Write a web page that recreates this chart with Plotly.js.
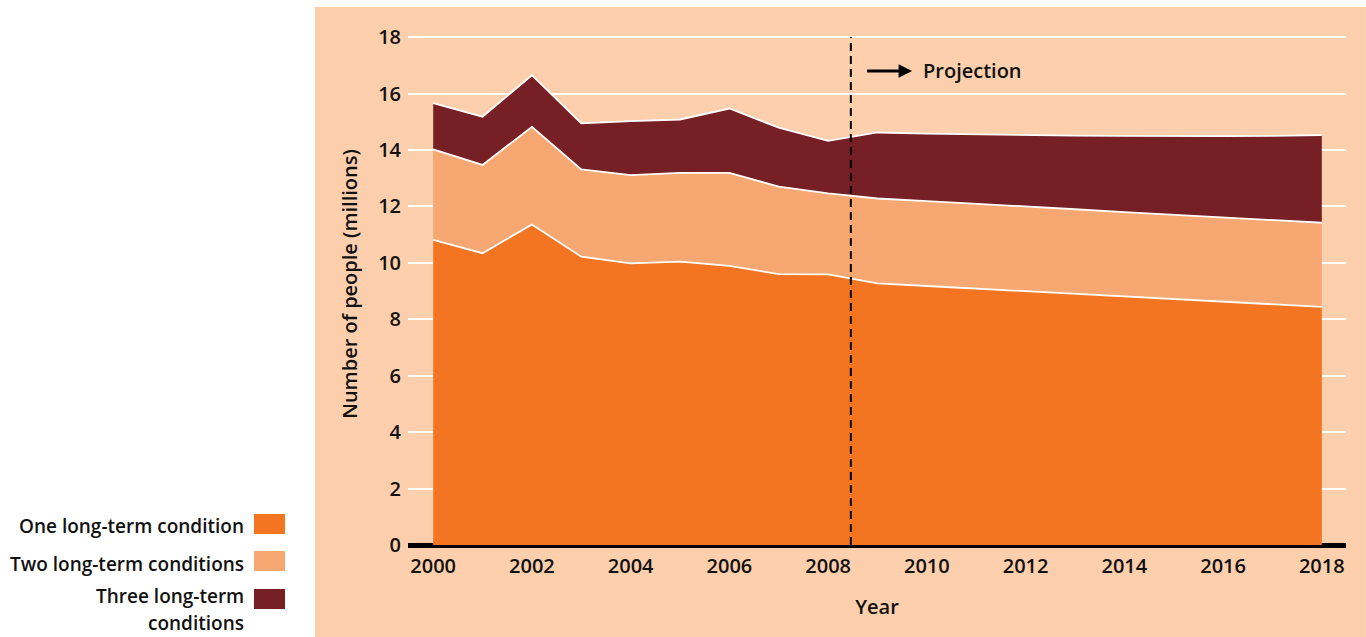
<!DOCTYPE html>
<html>
<head>
<meta charset="utf-8">
<script src="https://cdn.plot.ly/plotly-3.0.1.min.js"></script>
<style>
  html, body { margin: 0; padding: 0; background: #ffffff; }
  #chart { width: 1366px; height: 637px; }
</style>
</head>
<body>
<div id="chart"></div>
<script>
// ---- Data (millions of people) ----
const years = [2000, 2001, 2002, 2003, 2004, 2005, 2006, 2007, 2008, 2009,
               2010, 2011, 2012, 2013, 2014, 2015, 2016, 2017, 2018];
const oneCondition   = [10.81, 10.34, 11.36, 10.22, 9.98, 10.04, 9.89, 9.60, 9.59, 9.27,
                        9.18, 9.09, 8.99, 8.90, 8.81, 8.72, 8.63, 8.53, 8.44];
const twoConditions  = [3.21, 3.13, 3.46, 3.09, 3.13, 3.15, 3.30, 3.10, 2.87, 3.01,
                        3.01, 3.01, 3.01, 3.00, 2.99, 2.98, 2.98, 2.99, 2.98];
const threeConditions = [1.64, 1.71, 1.83, 1.63, 1.91, 1.89, 2.28, 2.09, 1.86, 2.34,
                        2.39, 2.45, 2.53, 2.61, 2.70, 2.79, 2.88, 2.98, 3.11];
const seriesNames = ["One long-term condition", "Two long-term conditions", "Three long-term<br>conditions"];
const xTicks = [2000, 2002, 2004, 2006, 2008, 2010, 2012, 2014, 2016, 2018];
const yTicks = [0, 2, 4, 6, 8, 10, 12, 14, 16, 18];
const projectionStart = 2008.46;

const colors = ["#F47521", "#F7A872", "#762026"];
const bg = "#FDCFAD";
const FONT = "'Open Sans', 'Noto Sans', sans-serif";
const W = 600;

const seriesData = [oneCondition, twoConditions, threeConditions];
const traces = seriesData.map((vals, i) => ({
  type: "scatter",
  mode: "lines",
  x: years,
  y: vals,
  name: seriesNames[i].replace("<br>", " "),
  stackgroup: "one",
  fillcolor: colors[i],
  line: { color: "#ffffff", width: 1.8 },
  hoverinfo: "x+y+name"
}));

// legend drawn at left with text to the left of swatch (one annotation per text line)
const legendLineY = [[0.0364], [-0.0364], [-0.0977, -0.1494]];
const swatchY = [[0.0211, 0.0594], [-0.0498, -0.0115], [-0.1226, -0.0843]];
const legendAnns = [];
seriesNames.forEach((n, i) => {
  n.split("<br>").forEach((part, j) => {
    legendAnns.push({
      xref: "paper", yref: "paper",
      x: -0.1727, y: legendLineY[i][j],
      xanchor: "right", yanchor: "middle",
      align: "right",
      text: part, showarrow: false,
      font: { family: FONT, size: 19, color: "#111111", weight: W }
    });
  });
});
const legendShapes = colors.map((c, i) => ({
  type: "rect", xref: "paper", yref: "paper",
  x0: -0.1642, x1: -0.1311, y0: swatchY[i][0], y1: swatchY[i][1],
  fillcolor: c, line: { width: 0 }
}));

const layout = {
  width: 1366, height: 637,
  margin: { l: 408, r: 20, t: 23, b: 92 },
  paper_bgcolor: "#ffffff",
  plot_bgcolor: "rgba(0,0,0,0)",
  showlegend: false,
  font: { family: FONT, size: 18, color: "#111111" },
  xaxis: {
    range: [1999.49, 2018.49],
    tickvals: xTicks,
    ticktext: xTicks.map(String),
    showgrid: false, zeroline: false, showline: false,
    ticks: "",
    ticklabelstandoff: 7,
    tickfont: { family: FONT, size: 20, color: "#111111", weight: W },
    title: { text: "Year", standoff: 21, font: { family: FONT, size: 20, color: "#111111", weight: W } }
  },
  yaxis: {
    range: [0, 18.5],
    tickvals: yTicks,
    ticktext: yTicks.map(String),
    showgrid: true, gridcolor: "#ffffff", gridwidth: 2,
    zeroline: true, zerolinecolor: "#000000", zerolinewidth: 5,
    showline: false, ticks: "",
    ticklabelstandoff: 6,
    tickfont: { family: FONT, size: 20, color: "#111111", weight: W },
    title: { text: "Number of people (millions)", standoff: 15, font: { family: FONT, size: 20, color: "#111111", weight: W } }
  },
  shapes: [
    { type: "rect", xref: "paper", yref: "paper", layer: "below",
      x0: -0.0991, x1: 1.0213, y0: -0.1762, y1: 1.0307,
      fillcolor: bg, line: { width: 0 } },
    { type: "line", xref: "x", yref: "y", layer: "above",
      x0: projectionStart, x1: projectionStart, y0: 0, y1: 18,
      line: { color: "#000000", width: 2, dash: "8px,5px" } }
  ].concat(legendShapes),
  annotations: [
    { xref: "x", yref: "y", axref: "x", ayref: "y",
      x: 2009.70, y: 16.8, ax: 2008.76, ay: 16.8,
      text: "", showarrow: true, arrowhead: 2, arrowsize: 0.9, arrowwidth: 3, arrowcolor: "#000000" },
    { xref: "x", yref: "y", x: 2009.88, y: 16.8, xanchor: "left", yanchor: "middle",
      text: "Projection", showarrow: false,
      font: { family: FONT, size: 20, color: "#111111", weight: W } }
  ].concat(legendAnns)
};

Plotly.newPlot("chart", traces, layout, { displayModeBar: false, staticPlot: true });
</script>
</body>
</html>
